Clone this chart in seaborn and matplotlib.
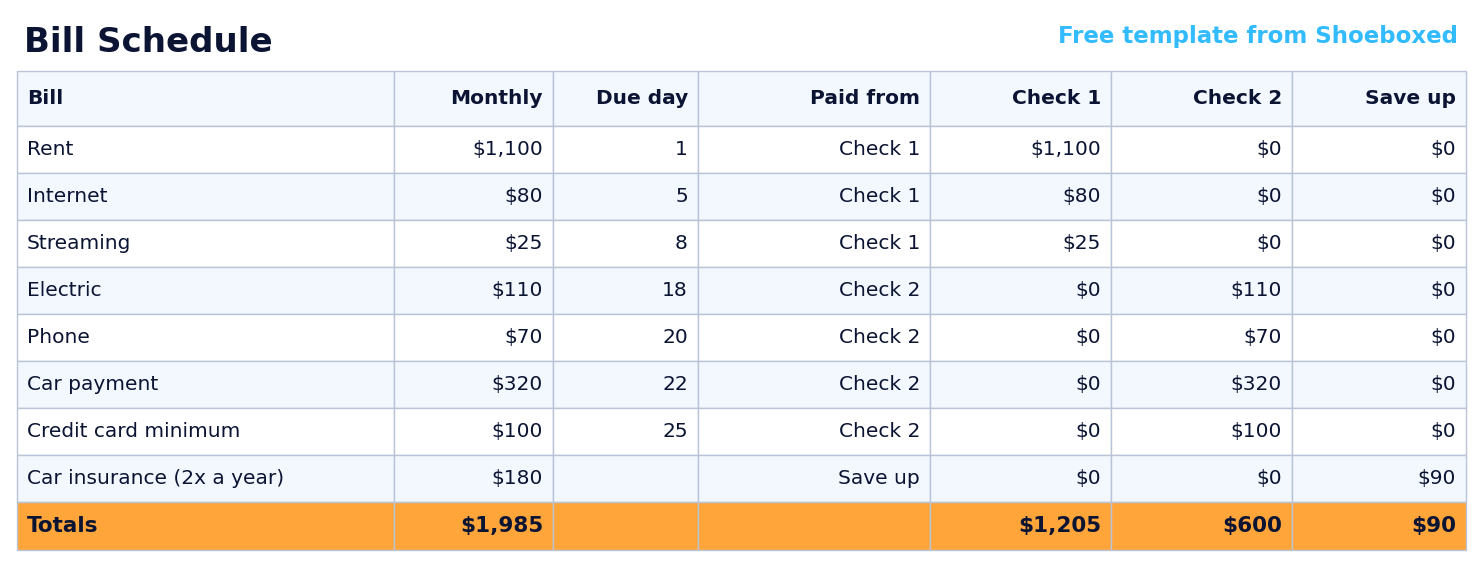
import matplotlib
matplotlib.use("Agg")
import matplotlib.pyplot as plt
import seaborn as sns
from matplotlib.patches import Rectangle

sns.set_style("white")
plt.rcParams['font.family'] = ['DejaVu Sans']

columns = ["Bill", "Monthly", "Due day", "Paid from", "Check 1", "Check 2", "Save up"]
bills = ["Rent", "Internet", "Streaming", "Electric", "Phone", "Car payment",
         "Credit card minimum", "Car insurance (2x a year)"]
monthly = ["$1,100", "$80", "$25", "$110", "$70", "$320", "$100", "$180"]
due_day = ["1", "5", "8", "18", "20", "22", "25", ""]
paid_from = ["Check 1", "Check 1", "Check 1", "Check 2", "Check 2", "Check 2", "Check 2", "Save up"]
check1 = ["$1,100", "$80", "$25", "$0", "$0", "$0", "$0", "$0"]
check2 = ["$0", "$0", "$0", "$110", "$70", "$320", "$100", "$0"]
save_up = ["$0", "$0", "$0", "$0", "$0", "$0", "$0", "$90"]
totals = ["Totals", "$1,985", "", "", "$1,205", "$600", "$90"]

col_edges = [17, 394, 553, 698, 930, 1111, 1292, 1466]
header_top, header_bot, row_h = 71, 126, 47

navy = "#0b1433"
blue_bg = "#f3f8fe"
grid = "#b9c4d6"
orange = "#ffa53a"

fig = plt.figure(figsize=(14.83, 5.83), dpi=100)
ax = fig.add_axes([0, 0, 1, 1])
ax.set_xlim(0, 1483)
ax.set_ylim(583, 0)
ax.axis("off")

ax.text(24, 42, "Bill Schedule", fontsize=24.5, fontweight="bold", color=navy, va="center")
ax.text(1458, 36, "Free template from Shoeboxed", fontsize=16.5, fontweight="bold",
        color="#33bbff", va="center", ha="right")

rows = [list(r) for r in zip(bills, monthly, due_day, paid_from, check1, check2, save_up)]
all_rows = [(columns, header_top, header_bot - header_top, blue_bg, True)]
for i, r in enumerate(rows):
    top = header_bot + i * row_h
    all_rows.append((r, top, row_h, "white" if i % 2 == 0 else blue_bg, False))
all_rows.append((totals, header_bot + len(rows) * row_h, 48, orange, True))

for k, (vals, top, h, bg, bold) in enumerate(all_rows):
    fs = 15.5 if (bold and k == len(all_rows) - 1) else 14.5
    for j, v in enumerate(vals):
        x0, x1 = col_edges[j], col_edges[j + 1]
        ax.add_patch(Rectangle((x0, top), x1 - x0, h, facecolor=bg, edgecolor=grid, lw=1))
        if j == 0:
            ax.text(x0 + 10, top + h / 2, v, fontsize=fs, color=navy, va="center",
                    ha="left", fontweight="bold" if bold else "normal")
        else:
            ax.text(x1 - 10, top + h / 2, v, fontsize=fs, color=navy, va="center",
                    ha="right", fontweight="bold" if bold else "normal")

fig.savefig("out.png", dpi=100)
